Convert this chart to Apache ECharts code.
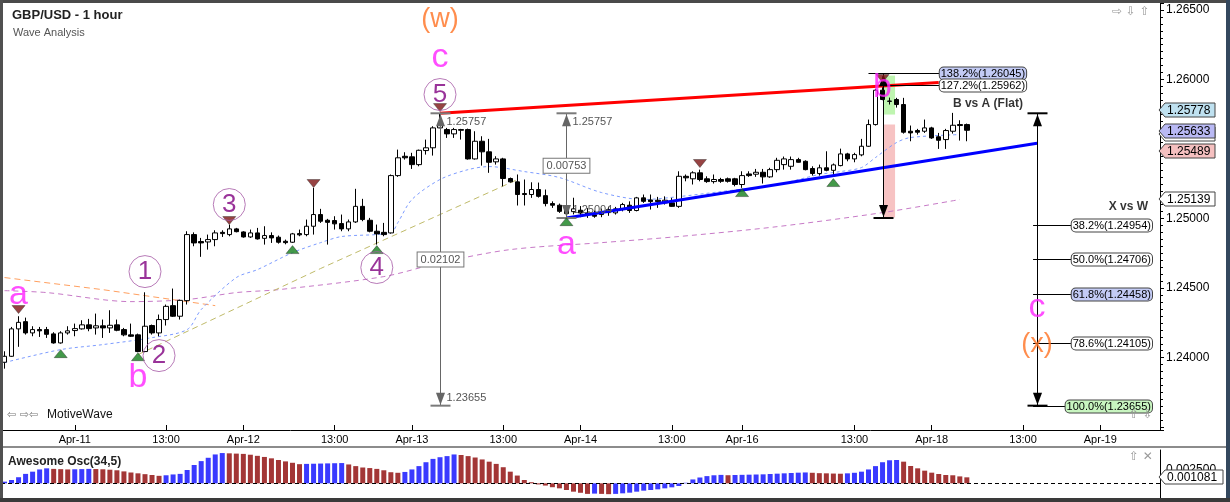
<!DOCTYPE html>
<html><head><meta charset="utf-8">
<script src="https://cdn.jsdelivr.net/npm/echarts@6/dist/echarts.min.js"></script>
<style>html,body{margin:0;padding:0;background:#fff;overflow:hidden}#c{width:1230px;height:502px}</style>
</head><body><div id="c"></div>
<script>
const FONT = '"Liberation Sans", Arial, sans-serif';

// ---- categories (hourly bars, weekend removed) ----
const sessions = [[Date.UTC(2017,3,10,14),105],[Date.UTC(2017,3,16,21),60]];
const categories = [];
sessions.forEach(([t0,n])=>{for(let k=0;k<n;k++){const d=new Date(t0+k*3600e3);categories.push('Apr-'+String(d.getUTCDate()).padStart(2,'0')+' '+String(d.getUTCHours()).padStart(2,'0')+':00');}});
const tickIdx  = [10,23,34,47,58,71,82,95,105,121,132,145,156];
const tickText = ['Apr-11','13:00','Apr-12','13:00','Apr-13','13:00','Apr-14','13:00','Apr-16','13:00','Apr-18','13:00','Apr-19'];
const yLabels = ['1.26500','1.26000','1.25000','1.24500','1.24000'];

// ---- candles ----
const opens = [1.23967,1.24010,1.24207,1.24259,1.24178,1.24202,1.24202,1.24171,1.24106,1.24178,
1.24195,1.24207,1.24236,1.24214,1.24229,1.24214,1.24236,1.24202,1.24164,1.24164,
1.24044,1.24231,1.24178,1.24274,1.24374,1.24298,1.24410,1.24885,1.24835,1.24832,
1.24849,1.24901,1.24885,1.24926,1.24904,1.24868,1.24897,1.24858,1.24878,1.24866,
1.24837,1.24830,1.24892,1.24885,1.24945,1.25029,1.24988,1.24986,1.24964,1.24926,
1.24976,1.25088,1.24988,1.24909,1.24901,1.24897,1.25309,1.25448,1.25444,1.25388,
1.25489,1.25509,1.25652,1.25640,1.25609,1.25640,1.25640,1.25429,1.25556,1.25480,
1.25408,1.25429,1.25288,1.25264,1.25180,1.25173,1.25209,1.25165,1.25108,1.25096,
1.25065,1.25050,1.25060,1.25040,1.25027,1.25029,1.25043,1.25041,1.25065,1.25096,
1.25058,1.25149,1.25134,1.25132,1.25113,1.25113,1.25088,1.25304,1.25286,1.25329,
1.25286,1.25266,1.25281,1.25286,1.25286,1.25245,1.25321,1.25319,1.25333,1.25300,
1.25352,1.25388,1.25376,1.25424,1.25412,1.25360,1.25324,1.25365,1.25347,1.25381,
1.25465,1.25429,1.25458,1.25520,1.25676,1.25923,1.25845,1.25856,1.25820,1.25628,
1.25633,1.25628,1.25652,1.25588,1.25568,1.25628,1.25676,1.25676];
const closes = [1.24010,1.24207,1.24254,1.24178,1.24202,1.24193,1.24168,1.24106,1.24178,1.24193,
1.24209,1.24236,1.24209,1.24229,1.24214,1.24233,1.24197,1.24164,1.24154,1.24044,
1.24226,1.24178,1.24274,1.24369,1.24298,1.24412,1.24885,1.24825,1.24825,1.24849,
1.24897,1.24892,1.24926,1.24906,1.24868,1.24897,1.24854,1.24878,1.24861,1.24830,
1.24827,1.24890,1.24883,1.24945,1.25029,1.24981,1.24973,1.24962,1.24926,1.24976,
1.25088,1.24993,1.24909,1.24890,1.24885,1.25309,1.25437,1.25437,1.25388,1.25491,
1.25509,1.25652,1.25669,1.25609,1.25640,1.25635,1.25429,1.25556,1.25480,1.25405,
1.25429,1.25288,1.25264,1.25173,1.25173,1.25209,1.25160,1.25108,1.25096,1.25052,
1.25036,1.25070,1.25040,1.25030,1.25017,1.25043,1.25065,1.25070,1.25101,1.25058,
1.25149,1.25124,1.25122,1.25122,1.25132,1.25088,1.25304,1.25293,1.25329,1.25281,
1.25266,1.25281,1.25268,1.25268,1.25245,1.25309,1.25309,1.25333,1.25300,1.25352,
1.25419,1.25429,1.25424,1.25405,1.25352,1.25324,1.25365,1.25347,1.25386,1.25465,
1.25429,1.25460,1.25520,1.25676,1.25923,1.25856,1.25843,1.25820,1.25621,1.25616,
1.25621,1.25652,1.25580,1.25563,1.25633,1.25671,1.25669,1.25635];
const lows = [1.23921,1.24006,1.24078,1.24166,1.24154,1.24149,1.24142,1.24101,1.24101,1.24166,
1.24154,1.24202,1.24190,1.24166,1.24142,1.24178,1.24190,1.24154,1.24149,1.24039,
1.24039,1.24166,1.24154,1.24231,1.24293,1.24274,1.24382,1.24801,1.24725,1.24777,
1.24801,1.24868,1.24873,1.24901,1.24863,1.24861,1.24849,1.24813,1.24825,1.24820,
1.24815,1.24825,1.24873,1.24873,1.24885,1.24969,1.24813,1.24921,1.24909,1.24909,
1.24969,1.24981,1.24901,1.24813,1.24873,1.24892,1.25300,1.25424,1.25357,1.25376,
1.25460,1.25453,1.25650,1.25580,1.25580,1.25568,1.25424,1.25424,1.25381,1.25329,
1.25388,1.25232,1.25259,1.25094,1.25094,1.25149,1.25151,1.25088,1.25077,1.25041,
1.25004,1.25030,1.25010,1.25005,1.25006,1.25010,1.25020,1.25029,1.25052,1.25041,
1.25052,1.25113,1.25065,1.25077,1.25101,1.25084,1.25077,1.25268,1.25245,1.25268,
1.25257,1.25252,1.25257,1.25259,1.25232,1.25221,1.25300,1.25300,1.25252,1.25293,
1.25333,1.25352,1.25352,1.25403,1.25347,1.25309,1.25309,1.25340,1.25300,1.25376,
1.25412,1.25405,1.25448,1.25516,1.25669,1.25851,1.25820,1.25798,1.25611,1.25556,
1.25604,1.25616,1.25573,1.25501,1.25501,1.25611,1.25561,1.25556];
const highs = [1.24046,1.24221,1.24298,1.24288,1.24226,1.24221,1.24221,1.24183,1.24190,1.24226,
1.24245,1.24269,1.24279,1.24317,1.24274,1.24341,1.24274,1.24214,1.24245,1.24173,
1.24470,1.24238,1.24310,1.24382,1.24497,1.24417,1.24909,1.24901,1.24861,1.24885,
1.24916,1.24916,1.24957,1.24933,1.24909,1.24921,1.24933,1.24945,1.24901,1.24878,
1.24849,1.24897,1.24921,1.24993,1.25221,1.25070,1.24998,1.25017,1.25029,1.24993,
1.25214,1.25142,1.25005,1.24957,1.24969,1.25317,1.25496,1.25477,1.25473,1.25496,
1.25568,1.25664,1.25757,1.25652,1.25652,1.25645,1.25647,1.25628,1.25592,1.25573,
1.25448,1.25437,1.25295,1.25317,1.25281,1.25261,1.25259,1.25209,1.25124,1.25108,
1.25088,1.25150,1.25090,1.25075,1.25058,1.25072,1.25086,1.25084,1.25113,1.25124,
1.25156,1.25173,1.25173,1.25156,1.25160,1.25149,1.25340,1.25317,1.25340,1.25352,
1.25304,1.25317,1.25293,1.25295,1.25293,1.25340,1.25340,1.25357,1.25357,1.25365,
1.25437,1.25446,1.25446,1.25437,1.25419,1.25376,1.25388,1.25484,1.25396,1.25503,
1.25473,1.25473,1.25573,1.25712,1.25933,1.26023,1.25870,1.25868,1.25868,1.25669,
1.25645,1.25712,1.25660,1.25616,1.25645,1.25760,1.25707,1.25683];

// ---- moving averages (read at sample bars) ----
const maFastIdx = [0,8,14,21,26,28,33,36,41,45,48,55,56,58,62,66,69,74,79,85,91,96,102,110,116,119,122,124,127,129,136];
const maFastVal = [1.23965,1.24058,1.24094,1.24144,1.24202,1.24346,1.24576,1.24633,1.24755,1.24827,1.24871,1.24899,1.24971,1.25137,1.25281,1.25352,1.25374,1.25338,1.25295,1.25187,1.25137,1.25158,1.25194,1.25245,1.25317,1.25338,1.25367,1.25439,1.25547,1.25583,1.25604];
const maSlowIdx = [0,6,18,26,33,39,54,62,72,85,96,110,125,136];
const maSlowVal = [1.24482,1.24468,1.24403,1.24418,1.24468,1.24489,1.24583,1.24683,1.24777,1.24827,1.24871,1.24942,1.25043,1.25137];
const maOrangeIdx = [0,14,30];
const maOrangeVal = [1.24576,1.24489,1.24374];
const maOliveIdx = [19,45,73];
const maOliveVal = [1.24022,1.24641,1.25280];

// ---- trend lines ----
const redLineIdx = [62,133];  const redLineVal = [1.25757,1.25978];
const blueLineIdx = [80,147]; const blueLineVal = [1.25004,1.25542];

// ---- measurements ----
const measureIdx = [62,80,125,147];
const measureTop = [1.25757,1.25757,1.26045,1.25757];
const measureBot = [1.23655,1.25004,1.25004,1.23655];
const zoneIdx = [126,126];
const zoneTop = [1.26028,1.25676];
const zoneBot = [1.25748,1.25007];
const bvaPct = ['138.2%','127.2%'];
const bvaVal = [1.26045,1.25962];
const bvaStart = [123,125];
const fibPct = ['38.2%','50.0%','61.8%','78.6%','100.0%'];
const fibVal = [1.24954,1.24706,1.24458,1.24105,1.23655];
const tagVal = [1.25605,1.25778,1.25633,1.25489,1.25139];

// ---- pivot markers ----
const downIdx = [2,32,44,62,99,125];
const downVal = [1.24346,1.24986,1.25252,1.25798,1.25396,1.26007];
const upIdx = [8,19,41,53,80,105,118];
const upVal = [1.24029,1.24007,1.24777,1.24777,1.24978,1.25187,1.25259];

// ---- wave labels ----
const letterText = ['a','b','c','a','b','c'];
const letterIdx = [2,19,62,80,125,147];
const letterVal = [1.24454,1.23857,1.26158,1.24813,1.25942,1.24360];
const orangeText = ['(w)','(x)'];
const orangeIdx = [62,147];
const orangeVal = [1.26431,1.24094];
const circleText = ['1','2','3','4','5'];
const circleIdx = [20,22,32,53,62];
const circleVal = [1.24619,1.24015,1.25101,1.24648,1.25892];
const noteText = ['B vs A (Flat)','X vs W'];
const noteIdx = [140,160];
const noteVal = [1.25827,1.25086];

// ---- Awesome oscillator ----
const aoVals = [0.00030,0.00060,0.00110,0.00170,0.00210,0.00250,0.00270,0.00260,0.00255,0.00250,
0.00253,0.00256,0.00260,0.00257,0.00253,0.00245,0.00235,0.00215,0.00195,0.00180,
0.00165,0.00150,0.00135,0.00145,0.00160,0.00170,0.00240,0.00330,0.00400,0.00460,
0.00520,0.00545,0.00540,0.00535,0.00530,0.00515,0.00495,0.00475,0.00450,0.00420,
0.00395,0.00370,0.00345,0.00350,0.00353,0.00356,0.00359,0.00362,0.00365,0.00340,
0.00310,0.00285,0.00275,0.00260,0.00235,0.00200,0.00190,0.00205,0.00250,0.00310,
0.00380,0.00440,0.00470,0.00490,0.00520,0.00510,0.00490,0.00465,0.00430,0.00390,
0.00350,0.00290,0.00210,0.00140,0.00060,0.00020,-0.00020,-0.00040,-0.00070,-0.00090,
-0.00120,-0.00150,-0.00170,-0.00190,-0.00185,-0.00190,-0.00195,-0.00190,-0.00180,-0.00168,
-0.00150,-0.00132,-0.00120,-0.00108,-0.00090,-0.00072,-0.00048,0.00010,0.00070,0.00105,
0.00130,0.00145,0.00152,0.00146,0.00150,0.00153,0.00156,0.00159,0.00162,0.00168,
0.00174,0.00180,0.00186,0.00192,0.00196,0.00190,0.00183,0.00180,0.00176,0.00173,
0.00180,0.00190,0.00210,0.00250,0.00310,0.00380,0.00415,0.00420,0.00390,0.00312,
0.00270,0.00228,0.00192,0.00168,0.00150,0.00145,0.00125,0.001081];
const aoTag = [0.001081];

// ---- styles ----
const fibFill = ['#ffffff','#ffffff','#c3cbf5','#ffffff','#c8f5c0'];
const bvaFill = ['#c3cbf5','#ffffff'];
const tagFill = ['#ffffff','#bfe1f0','#b9b9f4','#f5c0c0','#ffffff'];
const zoneFill = ['#bff5b0','#f7c3c3'];

const pairs = (ix, vs) => ix.map((x,k)=>[x, vs[k]]);
const candleData = opens.map((o,i)=>[o, closes[i], lows[i], highs[i]]);
const aoData = aoVals.map((v,i)=>({value:v, itemStyle:{color: (i===0 || v>=aoVals[i-1]) ? '#3a3aff' : '#a33636'}}));

function tagShape(x0, y, w, fill, text){
  return [
    {type:'polygon', shape:{points:[[x0-1,y],[x0+5,y-7],[x0+w,y-7],[x0+w,y+7],[x0+5,y+7]]}, style:{fill:fill, stroke:'#444', lineWidth:1}},
    {type:'text', style:{text:text, x:x0+7, y:y+0.5, align:'left', verticalAlign:'middle', fill:'#000', font:'12px '+FONT}}
  ];
}

const option = {
  animation:false,
  backgroundColor:'#ffffff',
  grid:[{left:1, top:3, width:1159, height:427},{left:1, top:450, width:1159, height:50}],
  xAxis:[
    {type:'category', gridIndex:0, data:categories, boundaryGap:true,
     axisLine:{lineStyle:{color:'#000', width:1}},
     axisTick:{show:true, inside:true, length:5, alignWithLabel:true, interval:(i)=>tickIdx.includes(i), lineStyle:{color:'#000'}},
     axisLabel:{interval:(i)=>tickIdx.includes(i), formatter:(v,i)=>{const k=tickIdx.indexOf(i);return k>=0?tickText[k]:'';}, color:'#000', fontSize:11, fontFamily:FONT, margin:4},
     splitLine:{show:false}},
    {type:'category', gridIndex:1, data:categories, boundaryGap:true, show:false}
  ],
  yAxis:[
    {type:'value', gridIndex:0, position:'right', min:1.2348, max:1.2655, splitNumber:6, scale:true,
     axisLine:{show:true, lineStyle:{color:'#000'}},
     axisTick:{show:true, length:4, lineStyle:{color:'#000'}},
     minorTick:{show:true, splitNumber:10, length:3, lineStyle:{color:'#000'}},
     splitLine:{show:false},
     axisLabel:{color:'#000', fontSize:12, fontFamily:FONT, margin:6, showMinLabel:false, showMaxLabel:false,
       formatter:(v)=>{const s=v.toFixed(5);return yLabels.includes(s)?s:'';}}},
    {type:'value', gridIndex:1, position:'right', min:-0.003, max:0.006, interval:0.0005,
     axisLine:{show:true, lineStyle:{color:'#000'}},
     axisTick:{show:false}, splitLine:{show:false},
     axisLabel:{color:'#000', fontSize:12, fontFamily:FONT, margin:6,
       formatter:(v)=>Math.abs(v-0.0025)<1e-9?'0.002500':''}}
  ],
  series:[
    {type:'line', name:'maSlow', data:pairs(maSlowIdx,maSlowVal), showSymbol:false, smooth:0.3, z:1, silent:true,
     lineStyle:{color:'#c77ac7', width:1, type:[5,4]}},
    {type:'line', name:'maOrange', data:pairs(maOrangeIdx,maOrangeVal), showSymbol:false, z:1, silent:true,
     lineStyle:{color:'#ffa060', width:1, type:[6,4]}},
    {type:'line', name:'maOlive', data:pairs(maOliveIdx,maOliveVal), showSymbol:false, z:1, silent:true,
     lineStyle:{color:'#c0bb6a', width:1, type:[6,4]}},
    {type:'line', name:'maFast', data:pairs(maFastIdx,maFastVal), showSymbol:false, smooth:0.3, z:1, silent:true,
     lineStyle:{color:'#7d9cff', width:1, type:[3,3]}},
    {type:'custom', name:'zones', z:1, silent:true,
     data:zoneIdx.map((x,k)=>[x, zoneTop[k], zoneBot[k], k]),
     renderItem:(params, api)=>{
       const a=api.coord([api.value(0),api.value(1)]), b=api.coord([api.value(0),api.value(2)]);
       return {type:'rect', shape:{x:a[0]-5.5, y:a[1], width:11, height:b[1]-a[1]}, style:{fill:zoneFill[api.value(3)]}};
     }},
    {type:'candlestick', name:'GBPUSD', data:candleData, barWidth:5, z:2, silent:true,
     itemStyle:{color:'#ffffff', color0:'#000000', borderColor:'#000000', borderColor0:'#000000', borderColorDoji:'#000000', borderWidth:1}},
    {type:'line', name:'redLine', data:pairs(redLineIdx,redLineVal), showSymbol:false, z:3, silent:true,
     lineStyle:{color:'#ff0000', width:3}},
    {type:'line', name:'blueLine', data:pairs(blueLineIdx,blueLineVal), showSymbol:false, z:3, silent:true,
     lineStyle:{color:'#0000ff', width:3}},
    {type:'custom', name:'measures', z:4, silent:true,
     data:measureIdx.map((x,k)=>[x, measureTop[k], measureBot[k], k]),
     renderItem:(params, api)=>{
       const k=api.value(3), t=api.value(1), bv=api.value(2);
       const top=api.coord([api.value(0),t]), bot=api.coord([api.value(0),bv]);
       const x=Math.round(top[0])+0.5, gray=k<2;
       const col=gray?'#666666':'#000000', cap=gray?'#7a7a7a':'#000000';
       const ch=[
         {type:'line', shape:{x1:x,y1:top[1],x2:x,y2:bot[1]}, style:{stroke:col,lineWidth:1}},
         {type:'polygon', shape:{points:[[x,top[1]+1],[x-4.5,top[1]+13],[x+4.5,top[1]+13]]}, style:{fill:col}},
         {type:'polygon', shape:{points:[[x,bot[1]-1],[x-4.5,bot[1]-13],[x+4.5,bot[1]-13]]}, style:{fill:col}},
         {type:'line', shape:{x1:x-10,y1:bot[1],x2:x+10,y2:bot[1]}, style:{stroke:cap,lineWidth:2}}
       ];
       if(k!==2) ch.push({type:'line', shape:{x1:x-10,y1:top[1],x2:x+10,y2:top[1]}, style:{stroke:cap,lineWidth:2}});
       if(gray){
         const mid=api.coord([api.value(0),(t+bv)/2]);
         ch.push({type:'text', style:{text:t.toFixed(5), x:x+6, y:top[1]+9, align:'left', verticalAlign:'middle', fill:'#555', font:'11px '+FONT}});
         ch.push({type:'text', style:{text:bv.toFixed(5), x:x+6, y:bot[1]-8, align:'left', verticalAlign:'middle', fill:'#555', font:'11px '+FONT}});
         ch.push({type:'text', style:{text:(t-bv).toFixed(5), x:x, y:mid[1], align:'center', verticalAlign:'middle', fill:'#555', font:'11px '+FONT, backgroundColor:'#ffffff', borderColor:'#777', borderWidth:1, padding:[2,3,1,3]}});
       }
       return {type:'group', children:ch};
     }},
    {type:'custom', name:'bva', z:4, silent:true,
     data:bvaVal.map((v,k)=>[bvaStart[k], v, k]),
     renderItem:(params, api)=>{
       const k=api.value(2), v=api.value(1);
       const a=api.coord([api.value(0),v]), b=api.coord([133,v]);
       const y=Math.round(a[1])+0.5;
       return {type:'group', children:[
         {type:'line', shape:{x1:a[0],y1:y,x2:b[0]+1,y2:y}, style:{stroke:'#000',lineWidth:1}},
         {type:'text', style:{text:bvaPct[k]+'('+v.toFixed(5)+')', x:b[0]+1, y:y, align:'left', verticalAlign:'middle', fill:'#000', font:'11px '+FONT, backgroundColor:bvaFill[k], borderColor:'#444', borderWidth:1, borderRadius:4, padding:[1,1,0,1]}}
       ]};
     }},
    {type:'custom', name:'fib', z:4, silent:true,
     data:fibVal.map((v,k)=>[147, v, k]),
     renderItem:(params, api)=>{
       const k=api.value(2), v=api.value(1);
       const a=api.coord([api.value(0),v]);
       const xr=params.coordSys.x+params.coordSys.width-8;
       const y=Math.round(a[1])+0.5;
       return {type:'group', children:[
         {type:'line', shape:{x1:a[0]-4,y1:y,x2:xr-70,y2:y}, style:{stroke:'#000',lineWidth:1}},
         {type:'text', style:{text:fibPct[k]+'('+v.toFixed(5)+')', x:xr, y:y, align:'right', verticalAlign:'middle', fill:'#000', font:'11px '+FONT, backgroundColor:fibFill[k], borderColor:'#444', borderWidth:1, borderRadius:4, padding:[1,1,0,1]}}
       ]};
     }},
    {type:'scatter', name:'down', data:pairs(downIdx,downVal), symbol:'triangle', symbolRotate:180, symbolSize:[13,8], z:5, silent:true,
     itemStyle:{color:'#7d1414', borderColor:'#222', borderWidth:0.5}},
    {type:'scatter', name:'up', data:pairs(upIdx,upVal), symbol:'triangle', symbolSize:[13,8], z:5, silent:true,
     itemStyle:{color:'#14801c', borderColor:'#222', borderWidth:0.5}},
    {type:'scatter', name:'letters', data:pairs(letterIdx,letterVal), symbolSize:1, z:6, silent:true,
     itemStyle:{color:'rgba(0,0,0,0)'},
     label:{show:true, position:'inside', formatter:(p)=>letterText[p.dataIndex], color:'#ff22ff', fontSize:34, fontFamily:FONT}},
    {type:'scatter', name:'orange', data:pairs(orangeIdx,orangeVal), symbolSize:1, z:6, silent:true,
     itemStyle:{color:'rgba(0,0,0,0)'},
     label:{show:true, position:'inside', formatter:(p)=>orangeText[p.dataIndex], color:'#ff7020', fontSize:27, fontFamily:FONT}},
    {type:'scatter', name:'circles', data:pairs(circleIdx,circleVal), symbol:'circle', symbolSize:32, z:6, silent:true,
     itemStyle:{color:'rgba(0,0,0,0)', borderColor:'#a65aa6', borderWidth:1},
     label:{show:true, position:'inside', formatter:(p)=>circleText[p.dataIndex], color:'#800080', fontSize:26, fontFamily:FONT}},
    {type:'scatter', name:'notes', data:pairs(noteIdx,noteVal), symbolSize:1, z:6, silent:true,
     itemStyle:{color:'rgba(0,0,0,0)'},
     label:{show:true, position:'inside', formatter:(p)=>noteText[p.dataIndex], color:'#000', fontSize:12, fontWeight:'bold', fontFamily:FONT}},
    {type:'custom', name:'tags', z:7, silent:true,
     data:tagVal.map((v,k)=>[164, v, k]),
     renderItem:(params, api)=>{
       const k=api.value(2), v=api.value(1);
       const y=Math.round(api.coord([164,v])[1]);
       const x0=params.coordSys.x+params.coordSys.width;
       return {type:'group', children:tagShape(x0, y, 55, tagFill[k], v.toFixed(5))};
     }},
    {type:'bar', name:'AO', xAxisIndex:1, yAxisIndex:1, data:aoData, barWidth:5, silent:true, z:2,
     markLine:{symbol:'none', silent:true, label:{show:false}, lineStyle:{color:'#000', type:[4,3], width:1}, data:[{yAxis:0}]}},
    {type:'custom', name:'aoTag', xAxisIndex:1, yAxisIndex:1, z:7, silent:true,
     data:aoTag.map(v=>[164, v]),
     renderItem:(params, api)=>{
       const v=api.value(1);
       const y=Math.round(api.coord([164,v])[1]);
       const x0=params.coordSys.x+params.coordSys.width;
       return {type:'group', children:tagShape(x0, y, 63, '#ffffff', v.toFixed(6))};
     }}
  ],
  graphic:[
    {type:'rect', shape:{x:0,y:0,width:1230,height:3}, style:{fill:'#4a4a4a'}, z:100},
    {type:'rect', shape:{x:0,y:0,width:3,height:502}, style:{fill:'#505050'}, z:100},
    {type:'rect', shape:{x:1226,y:0,width:4,height:502}, style:{fill:'#34485e'}, z:100},
    {type:'rect', shape:{x:0,y:498,width:1230,height:4}, style:{fill:'#3a3a3a'}, z:100},
    {type:'rect', shape:{x:3,y:446,width:1223,height:2}, style:{fill:'#8c8c8c'}, z:100},
    {type:'text', x:12, y:15, style:{text:'GBP/USD - 1 hour', font:'bold 13px '+FONT, fill:'#222', verticalAlign:'middle'}, z:100},
    {type:'text', x:13, y:33, style:{text:'Wave Analysis', font:'11px '+FONT, fill:'#555', verticalAlign:'middle'}, z:100},
    {type:'text', x:7, y:415, style:{text:'⇦ ⇨⇦', font:'11px "DejaVu Sans"', fill:'#777', verticalAlign:'middle'}, z:100},
    {type:'text', x:47, y:415, style:{text:'MotiveWave', font:'12px '+FONT, fill:'#111', verticalAlign:'middle'}, z:100},
    {type:'text', x:1112, y:12, style:{text:'⇨ ⇩ ⇧', font:'12px "DejaVu Sans"', fill:'#999', verticalAlign:'middle'}, z:100},
    {type:'text', x:1129, y:415, style:{text:'⇧ ⇩', font:'12px "DejaVu Sans"', fill:'#999', verticalAlign:'middle'}, z:100},
    {type:'text', x:1129, y:457, style:{text:'⇧ ✕', font:'12px "DejaVu Sans"', fill:'#999', verticalAlign:'middle'}, z:100},
    {type:'text', x:8, y:462, style:{text:'Awesome Osc(34,5)', font:'bold 12px '+FONT, fill:'#222', verticalAlign:'middle'}, z:100}
  ]
};
const chart = echarts.init(document.getElementById('c'), null, {renderer:'canvas'});
chart.setOption(option);
</script></body></html>
